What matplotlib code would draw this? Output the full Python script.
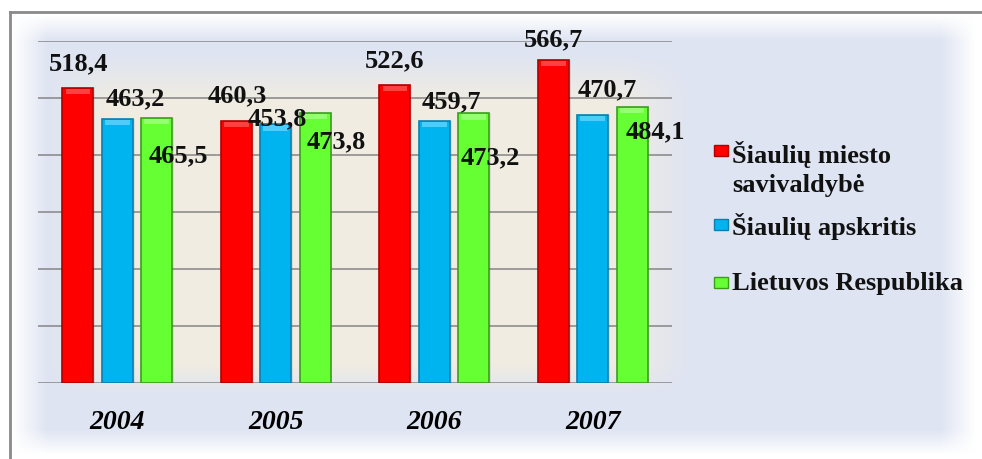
import numpy as np
import matplotlib
matplotlib.use('Agg')
import matplotlib.pyplot as plt
from matplotlib.patches import Rectangle

years = ['2004', '2005', '2006', '2007']
series = ['Šiaulių miesto\nsavivaldybė', 'Šiaulių apskritis', 'Lietuvos Respublika']
miestas = [518.4, 460.3, 522.6, 566.7]
apskritis = [463.2, 453.8, 459.7, 470.7]
respublika = [465.5, 473.8, 473.2, 484.1]
values = [miestas, apskritis, respublika]

colors = ['#ff0000', '#00b4f0', '#66ff33']
edges = ['#b00000', '#0a7fb0', '#3a9e1c']
tops = ['#ff6b6b', '#7fe0ff', '#b4ff99']

# label offsets (pixels) as the labels were dragged around in the original
offsets = [
    [(1, 25), (1, 26), (0, 25), (0, 21)],
    [(18, 21), (2, 7), (17, 20), (15, 26)],
    [(22, -37), (21, -28), (17, -44), (23, -24)],
]

W, H = 982, 460
fig = plt.figure(figsize=(W / 100, H / 100), dpi=100)

# background: white page, blue glow panel, beige centre
yy, xx = np.mgrid[0:H, 0:W].astype(float)


def ramp(d, w):
    return np.clip(d / w, 0, 1)


blue_a = (ramp(xx - 12, 35) * ramp(975 - xx, 35) * ramp(yy - 16, 25) * ramp(455 - yy, 25))
beige_a = (ramp(xx - 45, 60) * ramp(690 - xx, 70) * ramp(yy - 55, 45) * ramp(395 - yy, 30))
white = np.array([1.0, 1.0, 1.0])
blue = np.array([222, 228, 242]) / 255
beige = np.array([240, 236, 226]) / 255
img = white * (1 - blue_a[..., None]) + blue * blue_a[..., None]
img = img * (1 - beige_a[..., None]) + beige * beige_a[..., None]

bg = fig.add_axes([0, 0, 1, 1], zorder=0)
bg.imshow(img, aspect='auto', extent=(0, W, H, 0), interpolation='bilinear')
bg.plot([10, W], [13, 13], color='#8a8a8a', lw=2)
bg.plot([10, 10], [13, H], color='#8a8a8a', lw=2)
bg.set_xlim(0, W)
bg.set_ylim(H, 0)
bg.axis('off')

ax = fig.add_axes([38 / W, 1 - 384 / H, (672 - 38) / W, (384 - 42) / H], zorder=1)
ax.set_facecolor('none')

x = np.arange(len(years))
width = 0.195
step = 0.248
for i, vals in enumerate(values):
    pos = x + (i - 1) * step
    # soft shadow
    ax.bar(pos + 0.012, vals, width, color='#000000', alpha=0.08, zorder=2)
    ax.bar(pos, vals, width, color=colors[i], edgecolor=edges[i], linewidth=1.2, zorder=3)
    ax.bar(pos, [9] * len(vals), width * 0.8, bottom=np.array(vals) - 11,
           color=tops[i], alpha=0.6, linewidth=0, zorder=4)
    for j, v in enumerate(vals):
        ax.annotate(f'{v:.1f}'.replace('.', ','), (pos[j], v), xytext=offsets[i][j],
                    textcoords='offset pixels', ha='center', va='center',
                    fontsize=19, fontweight='bold', family='Liberation Serif',
                    color='#111111', zorder=6)

ax.set_ylim(0, 600)
ax.set_xlim(-0.5, 3.5)
ax.set_yticks(np.arange(0, 601, 100))
ax.yaxis.grid(True, color='#858585', lw=1.1)
ax.set_axisbelow(True)
ax.tick_params(axis='y', left=False, labelleft=False)
ax.tick_params(axis='x', length=0, pad=19)
ax.set_xticks(x)
ax.set_xticklabels(years, fontsize=20, fontweight='bold', style='italic', family='Liberation Serif')
for s in ax.spines.values():
    s.set_visible(False)

# legend drawn by hand
marker_y = [151, 225, 283]
text_y = [192, 235, 290]
for i, name in enumerate(series):
    bg.add_patch(Rectangle((714, marker_y[i] - 5.5), 14, 11, facecolor=colors[i],
                           edgecolor=edges[i], lw=1))
    bg.text(732, text_y[i], name, ha='left', va='baseline', fontsize=19,
            fontweight='bold', family='Liberation Serif', color='#111111',
            linespacing=1.35)

fig.savefig('out.png', dpi=100)
